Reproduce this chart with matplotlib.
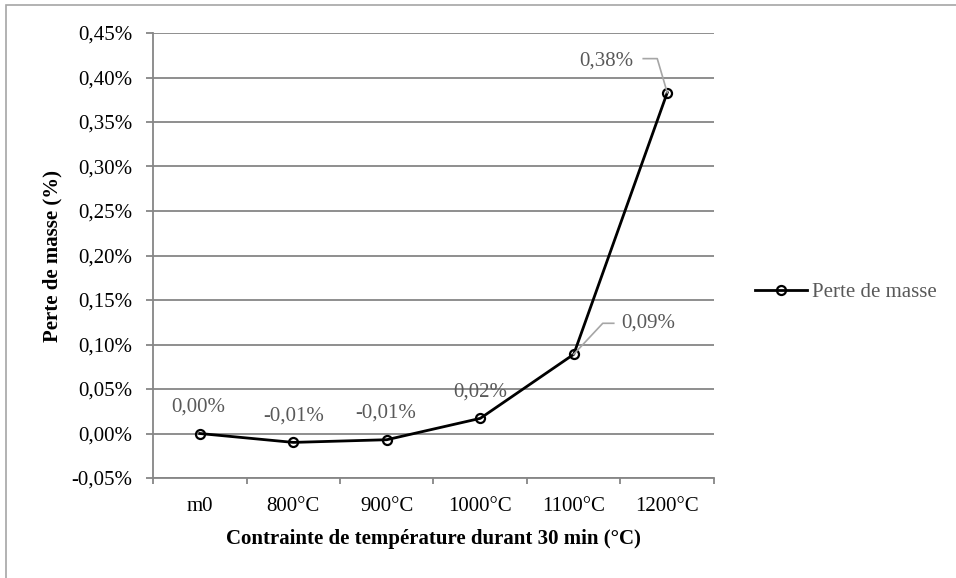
import matplotlib.pyplot as plt
from matplotlib.lines import Line2D
from matplotlib.patches import Rectangle
from matplotlib.ticker import FixedLocator, FuncFormatter
from matplotlib.transforms import IdentityTransform

categories = ["m0", "800°C", "900°C", "1000°C", "1100°C", "1200°C"]
perte = [0.000, -0.010, -0.007, 0.017, 0.089, 0.383]
labels = ["0,00%", "-0,01%", "-0,01%", "0,02%", "0,09%", "0,38%"]
series_name = "Perte de masse"

plt.rcParams["font.family"] = ["Liberation Serif", "DejaVu Serif"]
grid_col = "#868686"
label_col = "#595959"
leader_col = "#a6a6a6"
fs = 15

W, H = 956, 578
fig = plt.figure(figsize=(W / 100, H / 100), dpi=100)
ax = fig.add_axes([153 / W, 1 - 478 / H, (714 - 153) / W, (478 - 33) / H])

# chart frame (only top and left edges show in the original crop)
fig.add_artist(Rectangle((5.5 / W, -0.05), 1.0, 1 - 4.5 / H + 0.05, transform=fig.transFigure,
                         fill=False, edgecolor="#a6a6a6", lw=1.2))

x = list(range(len(categories)))
line, = ax.plot(x, perte, color="black", lw=2, marker="o", ms=6.5, mfc="none",
                mec="black", mew=1.6, label=series_name, zorder=3)

ax.set_xlim(-0.5, 5.5)
ax.set_ylim(-0.05, 0.45)
ax.yaxis.set_major_locator(FixedLocator([i * 0.05 - 0.05 for i in range(11)]))
ax.yaxis.set_major_formatter(FuncFormatter(lambda v, p: f"{v:.2f}%".replace(".", ",").replace("-0,00", "0,00")))
ax.grid(axis="y", color=grid_col, lw=1.3)
ax.set_axisbelow(True)
for s in ["top", "right", "bottom"]:
    ax.spines[s].set_visible(False)
ax.spines["left"].set_color(grid_col)
ax.spines["left"].set_linewidth(1.3)
ax.axhline(-0.05, color=grid_col, lw=1.3, clip_on=False)

ax.set_xticks(x)
ax.set_xticklabels(categories)
ax.set_xticks([i - 0.5 for i in range(len(categories) + 1)], minor=True)
ax.tick_params(axis="x", which="major", length=0, pad=14, labelsize=fs)
ax.tick_params(axis="x", which="minor", length=4, color=grid_col, width=1.3, direction="out")
ax.tick_params(axis="y", length=5, color=grid_col, width=1.3, labelsize=fs, pad=10)

ax.set_xlabel("Contrainte de température durant 30 min (°C)", fontsize=fs, fontweight="bold", labelpad=9)
ax.set_ylabel("Perte de masse (%)", fontsize=fs, fontweight="bold", labelpad=6)

# data labels, offsets in pixels from each point
offsets = [(-2, 26), (0, 26), (-1, 27), (0, 26), (75, 31), (-61, 32)]
for i, (dx, dy) in enumerate(offsets):
    ax.annotate(labels[i], (x[i], perte[i]), xytext=(dx, dy), textcoords="offset pixels",
                ha="center", va="center", fontsize=fs, color=label_col)

# leader lines for the last two labels
leaders = {4: [(0, 0), (29, 31), (40, 31)], 5: [(0, 0), (-10, 34), (-24, 34)]}
for i, pts in leaders.items():
    px, py = ax.transData.transform((x[i], perte[i]))
    fig.add_artist(Line2D([px + a for a, b in pts], [py + b for a, b in pts],
                          transform=IdentityTransform(), color=leader_col, lw=1.2, zorder=2))

leg = fig.legend(handles=[line], loc="center left", bbox_to_anchor=(755 / W, 1 - 292 / H),
                 frameon=False, fontsize=fs, handlelength=2.5, handletextpad=0.25,
                 borderpad=0, borderaxespad=0)
for t in leg.get_texts():
    t.set_color(label_col)

fig.savefig("out.png", dpi=100)
